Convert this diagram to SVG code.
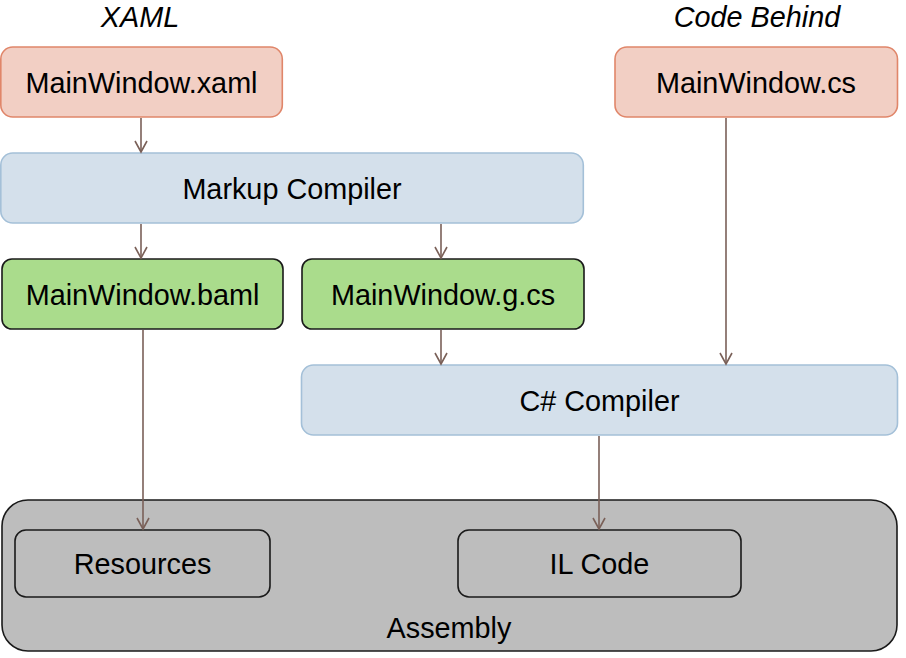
<svg xmlns="http://www.w3.org/2000/svg" width="906" height="658" viewBox="0 0 906 658">
<style>
text{font-family:"Liberation Sans",Arial,sans-serif;font-size:28.8px;fill:#000;text-anchor:middle}
.it{font-style:italic}
.src{fill:#f2cfc4;stroke:#e0866a;stroke-width:1.6}
.cmp{fill:#d4e0eb;stroke:#a4c0d8;stroke-width:1.6}
.gen{fill:#aadc8c;stroke:#1a1a1a;stroke-width:1.6}
.asm{fill:#bdbdbd;stroke:#1a1a1a;stroke-width:1.6}
.part{fill:#bdbdbd;stroke:#1a1a1a;stroke-width:1.6}
.edge{fill:none;stroke:#7a6058;stroke-width:1.6;marker-end:url(#arr)}
</style>
<defs>
<marker id="arr" markerWidth="14" markerHeight="16" refX="12" refY="7" orient="auto" markerUnits="userSpaceOnUse" viewBox="0 0 14 14">
<path d="M1,1 L12,7 L1,13" fill="none" stroke="#7a6058" stroke-width="1.6"/>
</marker>
</defs>
<rect width="906" height="658" fill="#fff"/>
<text class="it" x="140" y="27">XAML</text>
<text class="it" x="757" y="27">Code Behind</text>
<g id="assembly">
<rect class="asm" x="2" y="500" width="895" height="151" rx="26"/>
<text x="449" y="638">Assembly</text>
</g>
<g id="resources">
<rect class="part" x="15" y="530" width="255" height="67" rx="11"/>
<text x="142.5" y="574">Resources</text>
</g>
<g id="ilcode">
<rect class="part" x="458" y="530" width="283" height="67" rx="11"/>
<text x="599.5" y="574">IL Code</text>
</g>
<g id="mainwindow-xaml">
<rect class="src" x="0.8" y="47" width="281.5" height="70" rx="12"/>
<text x="141.5" y="93">MainWindow.xaml</text>
</g>
<g id="mainwindow-cs">
<rect class="src" x="615" y="47" width="282.5" height="70" rx="12"/>
<text x="756" y="93">MainWindow.cs</text>
</g>
<g id="markup-compiler">
<rect class="cmp" x="0.8" y="153" width="582.5" height="70" rx="12"/>
<text x="292" y="199">Markup Compiler</text>
</g>
<g id="mainwindow-baml">
<rect class="gen" x="2" y="259" width="281" height="70" rx="10"/>
<text x="142.5" y="305">MainWindow.baml</text>
</g>
<g id="mainwindow-gcs">
<rect class="gen" x="302" y="259" width="282" height="70" rx="10"/>
<text x="443" y="305">MainWindow.g.cs</text>
</g>
<g id="csharp-compiler">
<rect class="cmp" x="301.5" y="365" width="596" height="70" rx="12"/>
<text x="599.5" y="411">C# Compiler</text>
</g>
<g id="connectors">
<path class="edge" d="M141,118 V152"/>
<path class="edge" d="M141,224 V258"/>
<path class="edge" d="M441,224 V258"/>
<path class="edge" d="M441,330 V364"/>
<path class="edge" d="M726,118 V364"/>
<path class="edge" d="M143,330 V529"/>
<path class="edge" d="M599,436 V529"/>
</g>
</svg>
